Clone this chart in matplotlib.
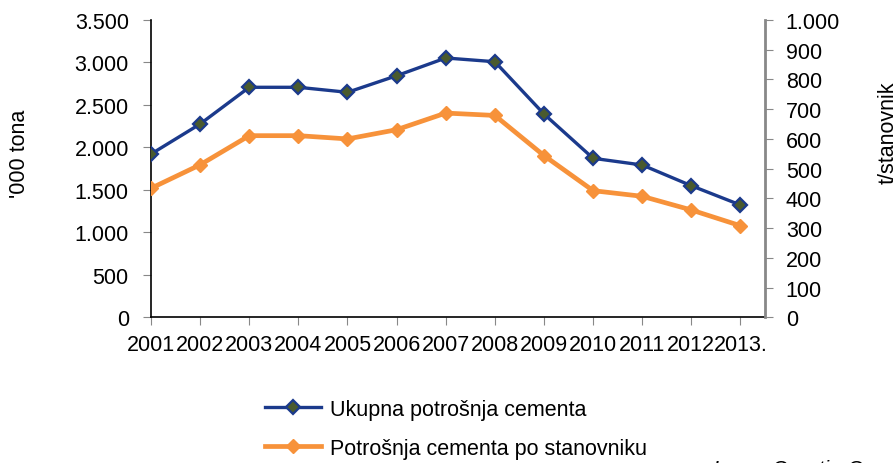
import numpy as np
import matplotlib.pyplot as plt
from matplotlib.ticker import FuncFormatter, MultipleLocator

##### Data #####
years = ['2001', '2002', '2003', '2004', '2005', '2006', '2007',
         '2008', '2009', '2010', '2011', '2012', '2013.']
ukupna = [1922, 2276, 2708, 2708, 2649, 2844, 3053, 3009, 2393, 1872, 1793, 1549, 1322]  # '000 tona
po_stanovniku = [434, 513, 611, 611, 600, 631, 687, 679, 544, 426, 407, 361, 308]       # po stanovniku

label_ukupna = 'Ukupna potrošnja cementa'
label_stan = 'Potrošnja cementa po stanovniku'

##### Style #####
plt.rcParams.update({
    'font.family': 'Liberation Sans',
    'font.size': 15.5,
})
BLUE = '#1B3A8C'
BLUE_FACE = '#4A5A2E'
ORANGE = '#F7923A'


def dot_thousands(v, pos):
    # 3500 -> 3.500
    return f'{int(v):,}'.replace(',', '.')


fig = plt.figure(figsize=(8.93, 4.64), dpi=100)
ax = fig.add_axes([0.1691, 0.314, 0.6876, 0.6407])
ax2 = ax.twinx()

x = np.arange(len(years))

l1, = ax.plot(x, ukupna, color=BLUE, linewidth=2.4, marker='D', markersize=7,
              markerfacecolor=BLUE_FACE, markeredgecolor=BLUE, markeredgewidth=1.6,
              label=label_ukupna, zorder=3)
l2, = ax2.plot(x, po_stanovniku, color=ORANGE, linewidth=3.4, marker='D', markersize=7,
               markerfacecolor=ORANGE, markeredgecolor=ORANGE,
               label=label_stan, zorder=3)

# x axis
ax.set_xlim(0, 12.5)
ax.set_xticks(x)
ax.set_xticklabels(years)
ax.tick_params(axis='x', length=6, color='#888888', pad=6)

# left axis
ax.set_ylim(0, 3500)
ax.yaxis.set_major_locator(MultipleLocator(500))
ax.yaxis.set_major_formatter(FuncFormatter(dot_thousands))
ax.tick_params(axis='y', length=6, color='#888888', pad=10)

# right axis
ax2.set_ylim(0, 1000)
ax2.yaxis.set_major_locator(MultipleLocator(100))
ax2.yaxis.set_major_formatter(FuncFormatter(dot_thousands))
ax2.tick_params(axis='y', length=6, color='#888888', pad=9)

for a in (ax, ax2):
    a.spines['top'].set_visible(False)
ax.spines['right'].set_visible(False)
ax2.spines['left'].set_visible(False)
ax2.spines['bottom'].set_visible(False)
ax2.spines['right'].set_color('#888888')
ax2.spines['right'].set_linewidth(2)
ax.spines['left'].set_linewidth(1.2)
ax.spines['bottom'].set_linewidth(1.2)

# axis titles
fig.text(0.022, 1 - 154 / 464, "'000 tona", rotation=90, ha='center', va='center')
fig.text(0.995, 1 - 133 / 464, 't/stanovnik', rotation=90, ha='center', va='center')

# legend
fig.legend(handles=[l1, l2], loc='upper left', bbox_to_anchor=(0.297, 0.139),
           frameon=False, borderpad=0, borderaxespad=0, handlelength=2.6,
           handletextpad=0.4, labelspacing=0.85)

# source note (cut by the figure edge)
fig.text(0.798, 1 - 476 / 464, 'Izvor: Croatia Cement', style='italic',
         ha='left', va='baseline')

plt.savefig('out.png', dpi=100)
plt.close()
